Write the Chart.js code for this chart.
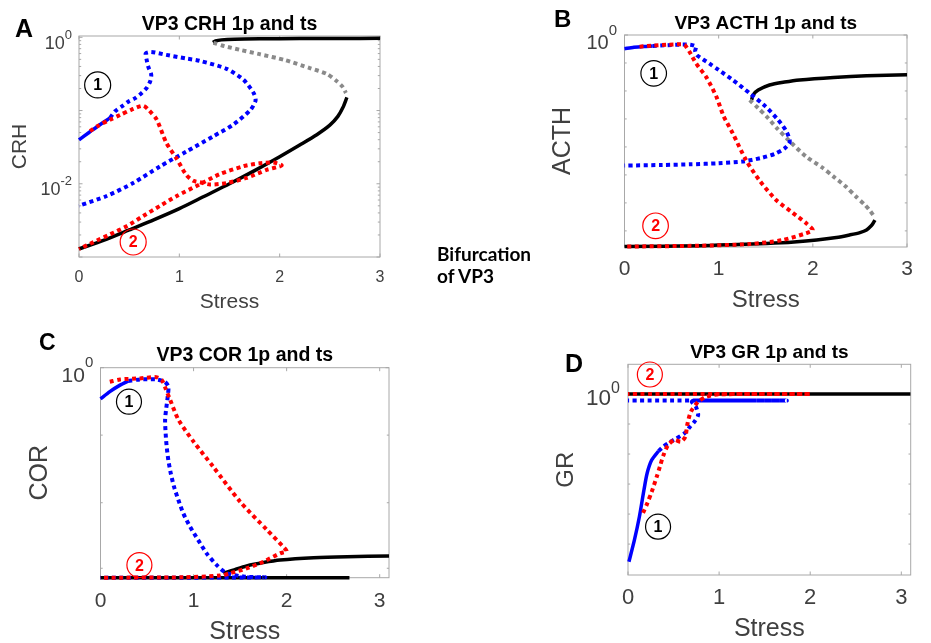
<!DOCTYPE html>
<html>
<head>
<meta charset="utf-8">
<script src="https://cdn.jsdelivr.net/npm/chart.js@4.4.1/dist/chart.umd.min.js"></script>
<style>
  body { margin: 0; background: #fff; }
  #page { position: relative; width: 931px; height: 643px; overflow: hidden; }
  #page canvas { position: absolute; left: 0; top: 0; }
  #bif { position: absolute; left: 437px; top: 243px; font: bold 19px Lato, "Open Sans", sans-serif; line-height: 22.3px; color: #000; }
</style>
</head>
<body>
<div id="page">
  <canvas id="cA" width="931" height="643"></canvas>
  <canvas id="cB" width="931" height="643"></canvas>
  <canvas id="cC" width="931" height="643"></canvas>
  <canvas id="cD" width="931" height="643"></canvas>
  <div id="bif">Bifurcation<br>of VP3</div>
</div>
<script>
// values as [stress, log10(level)]
const xTicks = [0, 1, 2, 3];

// A - CRH
const crhBlackUpper = [[1.335,-0.07],[1.36,-0.05],[1.42,-0.035],[1.55,-0.025],[1.8,-0.02],[2.2,-0.017],[2.6,-0.015],[3.0,-0.014]];
const crhGray = [[1.34,-0.075],[1.45,-0.12],[1.6,-0.17],[1.8,-0.23],[2.05,-0.31],[2.3,-0.42],[2.47,-0.5],[2.57,-0.6],[2.63,-0.68],[2.66,-0.76]];
const crhBlackLower = [[0,-2.89],[0.25,-2.77],[0.5,-2.63],[0.75,-2.49],[1.0,-2.34],[1.25,-2.17],[1.5,-2.0],[1.75,-1.82],[2.0,-1.63],[2.2,-1.47],[2.37,-1.33],[2.5,-1.2],[2.58,-1.08],[2.63,-0.96],[2.67,-0.82]];
const crhBlueSolid = [[0,-1.4],[0.1,-1.3],[0.2,-1.2],[0.31,-1.1]];
const crhBlueDotted = [[0.31,-1.1],[0.36,-1.01],[0.43,-0.94],[0.49,-0.88],[0.56,-0.83],[0.625,-0.76],[0.675,-0.69],[0.71,-0.6],[0.72,-0.51],[0.69,-0.4],[0.675,-0.31],[0.665,-0.22],[0.72,-0.2],[0.87,-0.24],[1.07,-0.29],[1.2,-0.32],[1.47,-0.43],[1.64,-0.58],[1.74,-0.76],[1.76,-0.86],[1.71,-0.99],[1.54,-1.19],[1.34,-1.35],[1.07,-1.56],[0.81,-1.76],[0.54,-1.99],[0.27,-2.17],[0,-2.3]];
const crhRed = [[0.11,-1.28],[0.2,-1.2],[0.31,-1.125],[0.41,-1.06],[0.52,-0.99],[0.64,-0.935],[0.7,-1.0],[0.775,-1.125],[0.87,-1.44],[0.97,-1.65],[1.07,-1.88],[1.14,-1.96],[1.206,-1.98],[1.306,-2.01],[1.47,-1.99],[1.67,-1.92],[1.87,-1.81],[2.02,-1.75],[1.94,-1.71],[1.8,-1.72],[1.64,-1.76],[1.4,-1.87],[1.2,-2.01],[0.97,-2.17],[0.81,-2.3],[0.64,-2.44],[0.475,-2.58],[0.31,-2.69],[0.14,-2.8],[0,-2.89]];
const crhMarks = [[0.186,-0.65,'1'],[0.54,-2.795,'2']];

// B - ACTH
const acthBlackUpper = [[1.35,-0.307],[1.365,-0.283],[1.42,-0.26],[1.54,-0.236],[1.7,-0.222],[1.86,-0.212],[2.22,-0.2],[2.57,-0.192],[3.0,-0.187]];
const acthGray = [[1.33,-0.307],[1.42,-0.345],[1.51,-0.385],[1.62,-0.44],[1.74,-0.495],[1.93,-0.574],[2.1,-0.625],[2.22,-0.668],[2.35,-0.715],[2.46,-0.763],[2.55,-0.8],[2.6,-0.825],[2.64,-0.849]];
const acthBlackLower = [[0,-0.998],[0.8,-0.994],[1.2,-0.988],[1.51,-0.983],[1.8,-0.976],[2.04,-0.967],[2.25,-0.955],[2.39,-0.943],[2.5,-0.932],[2.57,-0.92],[2.62,-0.9],[2.64,-0.888],[2.66,-0.873]];
const acthBlueSolid = [[0,-0.065],[0.1,-0.058],[0.2,-0.054],[0.3,-0.052]];
const acthBlueDotted = [[0.3,-0.052],[0.45,-0.048],[0.62,-0.045],[0.7,-0.046],[0.76,-0.055],[0.75,-0.075],[0.77,-0.095],[0.9,-0.134],[1.0,-0.165],[1.15,-0.212],[1.33,-0.275],[1.5,-0.338],[1.63,-0.4],[1.72,-0.455],[1.755,-0.505],[1.7,-0.535],[1.6,-0.56],[1.45,-0.58],[1.25,-0.597],[1.0,-0.605],[0.7,-0.61],[0.4,-0.613],[0,-0.616]];
const acthRed = [[0.16,-0.055],[0.3,-0.05],[0.45,-0.046],[0.6,-0.044],[0.64,-0.047],[0.69,-0.079],[0.76,-0.134],[0.87,-0.2],[0.975,-0.29],[1.05,-0.38],[1.15,-0.464],[1.29,-0.59],[1.44,-0.69],[1.61,-0.778],[1.79,-0.84],[1.93,-0.888],[2.0,-0.92],[1.93,-0.935],[1.68,-0.967],[1.33,-0.986],[0.8,-0.994],[0,-0.998]];
const acthMarks = [[0.31,-0.181,'1'],[0.33,-0.9,'2']];
const acthMinorTicks = [-0.132,-0.264,-0.396,-0.528,-0.66,-0.792,-0.924];

// C - COR
const corBlackUpper = [[1.32,-0.979],[1.45,-0.96],[1.57,-0.944],[1.75,-0.928],[1.93,-0.916],[2.29,-0.905],[2.65,-0.9],[3.1,-0.897]];
const corBlackLower = [[0,-1.0],[2.675,-1.0]];
const corBlueSolid = [[0,-0.149],[0.1,-0.114],[0.21,-0.083],[0.3,-0.063]];
const corBlueDotted = [[0.3,-0.063],[0.425,-0.056],[0.6,-0.056],[0.69,-0.067],[0.729,-0.09],[0.722,-0.138],[0.704,-0.202],[0.694,-0.249],[0.7,-0.313],[0.711,-0.376],[0.729,-0.44],[0.755,-0.503],[0.79,-0.567],[0.837,-0.63],[0.89,-0.694],[0.962,-0.757],[1.05,-0.821],[1.14,-0.884],[1.249,-0.94],[1.357,-0.979],[1.55,-0.995],[1.77,-0.998],[1.4,-0.999],[0.8,-1.0],[0,-1.0]];
const corRed = [[0.1,-0.067],[0.21,-0.056],[0.425,-0.051],[0.6,-0.045],[0.66,-0.06],[0.7,-0.1],[0.75,-0.155],[0.84,-0.25],[1.0,-0.352],[1.21,-0.471],[1.5,-0.638],[1.79,-0.773],[1.98,-0.86],[2.0,-0.875],[1.93,-0.884],[1.75,-0.924],[1.57,-0.956],[1.39,-0.979],[1.285,-0.99],[0.89,-0.998],[0,-1.0]];
const corMarks = [[0.306,-0.162,'1'],[0.418,-0.94,'2']];
const corMinorTicks = [-0.321,-0.643,-0.955];

// D - GR
const grBlack = [[0,0],[3.1,0]];
const grBlueSolid = [[0.01,-0.559],[0.07,-0.487],[0.125,-0.409],[0.175,-0.32],[0.21,-0.264],[0.26,-0.22],[0.335,-0.19]];
const grBlueDotted = [[0.335,-0.19],[0.384,-0.176],[0.46,-0.16],[0.53,-0.148],[0.62,-0.131],[0.675,-0.111],[0.73,-0.092],[0.77,-0.07],[0.745,-0.042],[0.7,-0.026],[0.72,-0.022],[1.74,-0.022],[0,-0.022]];
const grRed = [[0.165,-0.396],[0.212,-0.364],[0.26,-0.326],[0.315,-0.276],[0.35,-0.242],[0.39,-0.203],[0.44,-0.17],[0.51,-0.153],[0.58,-0.159],[0.63,-0.142],[0.65,-0.103],[0.69,-0.059],[0.77,-0.026],[0.86,-0.009],[1.0,-0.001],[2.0,0],[0,0]];
const grMarks = [[0.24,0.065,'2'],[0.33,-0.442,'1']];
const grMinorTicks = [-0.1,-0.2,-0.3,-0.4,-0.5];

// log minor tick offsets inside a decade (log10 of 2..9)
const logMinor = [0.301,0.477,0.602,0.699,0.778,0.845,0.903,0.954];

const BLACK = '#000000', GRAY = '#8a8a8a', BLUE = '#0000ff', RED = '#ff0000';
const AXIS = '#a8a8a8', TEXT = '#404040';
const FONT = "'Liberation Sans', Arial, Helvetica, sans-serif";
const W = 931, H = 643;

function series(data, color, dotted, order) {
  return {
    data: data.map(([x, y]) => ({ x, y })),
    borderColor: color,
    borderWidth: dotted ? 4 : 3.5,
    borderDash: dotted ? [4, 3.5] : [],
    borderCapStyle: 'butt',
    borderJoinStyle: 'round',
    pointRadius: 0,
    tension: 0.25,
    clip: false,
    order
  };
}

function deco(p) {
  return {
    id: 'deco',
    beforeDatasetsDraw(chart) {
      const { ctx, chartArea: a, scales: { x, y } } = chart;
      ctx.save();
      ctx.strokeStyle = AXIS;
      ctx.lineWidth = 1;
      ctx.strokeRect(a.left, a.top, a.width, a.height);
      ctx.beginPath();
      xTicks.forEach(v => {
        const px = x.getPixelForValue(v);
        ctx.moveTo(px, a.bottom); ctx.lineTo(px, a.bottom - 3.5);
        ctx.moveTo(px, a.top); ctx.lineTo(px, a.top + 3.5);
      });
      p.yMajor.forEach(v => {
        const py = y.getPixelForValue(v);
        ctx.moveTo(a.left, py); ctx.lineTo(a.left + 3.5, py);
        ctx.moveTo(a.right, py); ctx.lineTo(a.right - 3.5, py);
      });
      p.yMinor.forEach(v => {
        const py = y.getPixelForValue(v);
        ctx.moveTo(a.left, py); ctx.lineTo(a.left + 2.2, py);
        ctx.moveTo(a.right, py); ctx.lineTo(a.right - 2.2, py);
      });
      ctx.stroke();
      ctx.restore();
    },
    afterDraw(chart) {
      const { ctx, chartArea: a, scales: { x, y } } = chart;
      const L = p.ylab;
      ctx.save();
      // y tick labels 10^k
      ctx.fillStyle = TEXT;
      ctx.textBaseline = 'middle';
      p.yLabels.forEach(([v, e]) => {
        const py = y.getPixelForValue(v) + L.dy;
        ctx.font = `${L.sup}px ${FONT}`;
        const sw = ctx.measureText(e).width;
        ctx.textAlign = 'left';
        ctx.fillText(e, L.right - sw, py - L.rise);
        ctx.font = `${L.base}px ${FONT}`;
        ctx.textAlign = 'right';
        ctx.fillText('10', L.right - sw, py);
      });
      // panel title
      ctx.fillStyle = '#000';
      ctx.textBaseline = 'alphabetic';
      ctx.textAlign = 'center';
      ctx.font = `bold ${p.titleSize}px ${FONT}`;
      ctx.fillText(p.title, (a.left + a.right) / 2, p.titleBase);
      // panel letter
      ctx.textAlign = 'left';
      ctx.font = `bold ${p.letterSize}px ${FONT}`;
      ctx.fillText(p.letter, p.letterX, p.letterBase);
      // circled branch markers
      p.marks.forEach(([mx, my, t]) => {
        const c = t === '1' ? BLACK : RED;
        const cx = x.getPixelForValue(mx), cy = y.getPixelForValue(my);
        ctx.beginPath();
        ctx.arc(cx, cy, p.r, 0, Math.PI * 2);
        ctx.lineWidth = 1.2;
        ctx.strokeStyle = c;
        ctx.stroke();
        ctx.fillStyle = c;
        ctx.font = `bold 16px ${FONT}`;
        ctx.textAlign = 'center';
        ctx.textBaseline = 'middle';
        ctx.fillText(t, cx, cy + 1);
      });
      ctx.restore();
    }
  };
}

function makePanel(id, p, datasets) {
  const yLH = p.yTitleSize * 1.2, xLH = p.xTitleSize * 1.2;
  const padLeft = p.yTitleCx - yLH / 2;
  const xAxisH = p.xTitleCy + xLH / 2 - p.plot.b;
  const tickPad = p.tickTop - p.plot.b - 0.242 * p.tickSize;
  return new Chart(document.getElementById(id), {
    type: 'line',
    data: { datasets },
    plugins: [deco(p)],
    options: {
      responsive: false,
      animation: false,
      events: [],
      devicePixelRatio: 1,
      layout: {
        padding: { left: padLeft, top: p.plot.t, right: W - p.plot.r, bottom: H - p.plot.b - xAxisH }
      },
      plugins: { legend: { display: false }, tooltip: { enabled: false } },
      scales: {
        x: {
          type: 'linear', min: p.x[0], max: p.x[1],
          afterBuildTicks: s => { s.ticks = xTicks.map(v => ({ value: v })); },
          afterFit: s => { s.height = xAxisH; },
          grid: { display: false, drawTicks: false },
          border: { display: false },
          ticks: { padding: tickPad, color: TEXT, font: { family: FONT, size: p.tickSize }, callback: v => String(v), maxRotation: 0 },
          title: { display: true, text: 'Stress', color: TEXT, font: { family: FONT, size: p.xTitleSize }, padding: 0 }
        },
        y: {
          type: 'linear', min: p.y[0], max: p.y[1],
          afterFit: s => { s.width = p.plot.l - padLeft; },
          grid: { display: false, drawTicks: false },
          border: { display: false },
          ticks: { display: false },
          title: { display: true, text: p.yTitle, color: TEXT, font: { family: FONT, size: p.yTitleSize }, padding: 0 }
        }
      }
    }
  });
}

const crhMinorTicks = [];
[-3, -2, -1].forEach(k => logMinor.forEach(m => crhMinorTicks.push(k + m)));

makePanel('cA', {
  plot: { l: 79, r: 380, t: 36, b: 257 }, x: [0, 3], y: [-3, 0.018],
  yTitle: 'CRH', yTitleSize: 21, yTitleCx: 20, xTitleSize: 21, xTitleCy: 302.5,
  tickSize: 16, tickTop: 271.7,
  title: 'VP3 CRH 1p and ts', titleSize: 19.5, titleBase: 30,
  letter: 'A', letterX: 15, letterBase: 37, letterSize: 25,
  ylab: { base: 18, sup: 13, right: 72, dy: 6.5, rise: 8.6 },
  yMajor: [-3, -2, -1, 0], yMinor: crhMinorTicks, yLabels: [[0, '0'], [-2, '-2']],
  marks: crhMarks, r: 13
}, [
  series(crhRed, RED, true, 1),
  series(crhBlueDotted, BLUE, true, 2),
  series(crhBlueSolid, BLUE, false, 3),
  series(crhGray, GRAY, true, 4),
  series(crhBlackUpper, BLACK, false, 5),
  series(crhBlackLower, BLACK, false, 6)
]);

makePanel('cB', {
  plot: { l: 624.5, r: 907, t: 35, b: 247 }, x: [0, 3], y: [-1, 0],
  yTitle: 'ACTH', yTitleSize: 25, yTitleCx: 563.3, xTitleSize: 24, xTitleCy: 300,
  tickSize: 21, tickTop: 261.7,
  title: 'VP3 ACTH 1p and ts', titleSize: 19, titleBase: 29.3,
  letter: 'B', letterX: 554, letterBase: 27.3, letterSize: 24,
  ylab: { base: 20, sup: 15, right: 617, dy: 8, rise: 12 },
  yMajor: [0], yMinor: acthMinorTicks, yLabels: [[0, '0']],
  marks: acthMarks, r: 12.8
}, [
  series(acthRed, RED, true, 1),
  series(acthBlueDotted, BLUE, true, 2),
  series(acthBlueSolid, BLUE, false, 3),
  series(acthGray, GRAY, true, 4),
  series(acthBlackUpper, BLACK, false, 5),
  series(acthBlackLower, BLACK, false, 6)
]);

makePanel('cC', {
  plot: { l: 100.5, r: 389, t: 367.7, b: 577.7 }, x: [0, 3.1], y: [-1, 0],
  yTitle: 'COR', yTitleSize: 25, yTitleCx: 40, xTitleSize: 25, xTitleCy: 632.5,
  tickSize: 21, tickTop: 593.3,
  title: 'VP3 COR 1p and ts', titleSize: 19.5, titleBase: 360.5,
  letter: 'C', letterX: 39, letterBase: 349.5, letterSize: 23,
  ylab: { base: 21, sup: 15, right: 93.3, dy: 8.3, rise: 13 },
  yMajor: [0], yMinor: corMinorTicks, yLabels: [[0, '0']],
  marks: corMarks, r: 12.5
}, [
  series(corRed, RED, true, 1),
  series(corBlueDotted, BLUE, true, 2),
  series(corBlueSolid, BLUE, false, 3),
  series(corBlackUpper, BLACK, false, 5),
  series(corBlackLower, BLACK, false, 6)
]);

makePanel('cD', {
  plot: { l: 628, r: 910.7, t: 364.3, b: 575 }, x: [0, 3.103], y: [-0.603, 0.099],
  yTitle: 'GR', yTitleSize: 24, yTitleCx: 566.7, xTitleSize: 25, xTitleCy: 629,
  tickSize: 22, tickTop: 590,
  title: 'VP3 GR 1p and ts', titleSize: 19, titleBase: 357.5,
  letter: 'D', letterX: 565, letterBase: 372, letterSize: 25,
  ylab: { base: 22.5, sup: 16, right: 620, dy: 5, rise: 10 },
  yMajor: [0], yMinor: grMinorTicks, yLabels: [[0, '0']],
  marks: grMarks, r: 12.5
}, [
  series(grRed, RED, true, 1),
  series(grBlueDotted, BLUE, true, 2),
  series(grBlueSolid, BLUE, false, 3),
  series(grBlack, BLACK, false, 6)
]);
</script>
</body>
</html>
